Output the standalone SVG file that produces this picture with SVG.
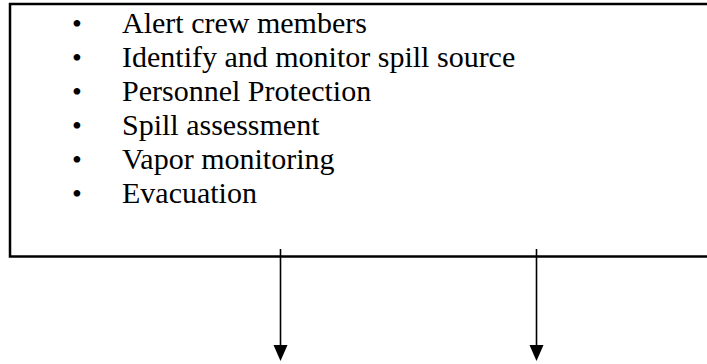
<svg xmlns="http://www.w3.org/2000/svg" width="707" height="364" viewBox="0 0 707 364">
<style>
  .t { font-family: "Liberation Serif", "Times New Roman", serif; font-size: 30px; fill: #000; }
  .b { font-family: "Liberation Serif", "Times New Roman", serif; font-size: 28px; fill: #000; text-anchor: middle; }
  .box { fill: #fff; stroke: #000; stroke-width: 2.5; }
  .conn { stroke: #000; stroke-width: 1.6; fill: none; }
  .head { fill: #000; }
</style>
<rect width="707" height="364" fill="#fff"/>
<g id="actions">
  <rect class="box" x="10" y="4" width="720" height="252.5"/>
  <text class="b" x="77" y="32.5">•</text><text class="t" x="122" y="32.5">Alert crew members</text>
  <text class="b" x="77" y="66.5">•</text><text class="t" x="122" y="66.5">Identify and monitor spill source</text>
  <text class="b" x="77" y="100.5">•</text><text class="t" x="122" y="100.5">Personnel Protection</text>
  <text class="b" x="77" y="134.5">•</text><text class="t" x="122" y="134.5">Spill assessment</text>
  <text class="b" x="77" y="168.5">•</text><text class="t" x="122" y="168.5">Vapor monitoring</text>
  <text class="b" x="77" y="202.5">•</text><text class="t" x="122" y="202.5">Evacuation</text>
</g>
<g id="connectors">
  <line class="conn" x1="280.5" y1="249" x2="280.5" y2="346"/>
  <path class="head" d="M273.5,345 L287.5,345 L280.5,361 Z"/>
  <line class="conn" x1="536.5" y1="249" x2="536.5" y2="346"/>
  <path class="head" d="M529.5,345 L543.5,345 L536.5,361 Z"/>
</g>
</svg>
